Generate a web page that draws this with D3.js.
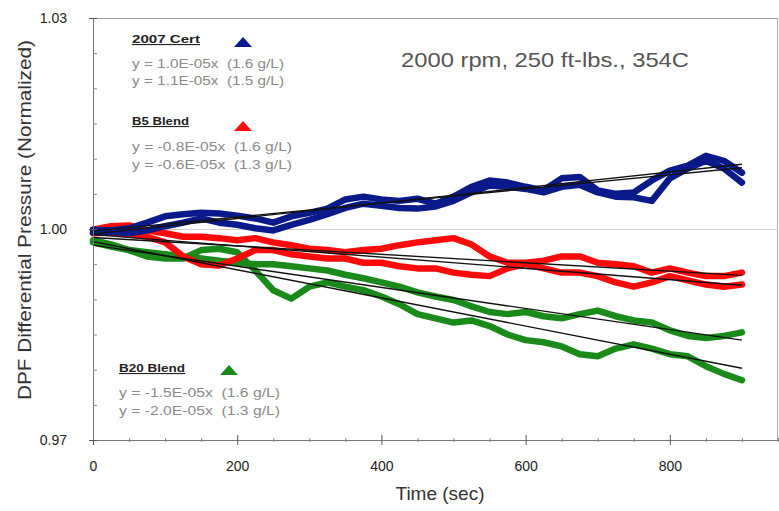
<!DOCTYPE html>
<html><head><meta charset="utf-8">
<script src="https://cdn.jsdelivr.net/npm/d3@7"></script>
<style>
body{margin:0;background:#fff}
svg{display:block}
text{font-family:Arial,"Liberation Sans",sans-serif}
</style>
</head><body>
<svg id="chart" width="779" height="511"></svg>
<script>
// ---------- data ----------
const times = [0,25,50,75,100,125,150,175,200,225,250,275,300,325,350,375,400,425,450,475,500,525,550,575,600,625,650,675,700,725,750,775,800,825,850,875,900];

const certRun1 = [0.9999,0.9998,1.0001,1.0009,1.0018,1.0021,1.0023,1.0022,1.0019,1.0015,1.0009,1.0018,1.0023,1.0029,1.0042,1.0046,1.0042,1.0040,1.0043,1.0036,1.0046,1.0060,1.0069,1.0066,1.0060,1.0055,1.0072,1.0074,1.0055,1.0050,1.0052,1.0069,1.0083,1.0090,1.0104,1.0097,1.0080];
const certRun2 = [0.9995,0.9996,0.9994,0.9998,1.0004,1.0009,1.0015,1.0009,1.0006,1.0001,0.9998,1.0006,1.0013,1.0021,1.0030,1.0036,1.0033,1.0030,1.0029,1.0032,1.0040,1.0052,1.0062,1.0060,1.0057,1.0052,1.0060,1.0063,1.0052,1.0046,1.0045,1.0040,1.0072,1.0086,1.0097,1.0086,1.0066];

const b5Run1 = [0.9999,1.0004,1.0005,0.9998,0.9994,0.9989,0.9989,0.9987,0.9984,0.9987,0.9981,0.9977,0.9972,0.9970,0.9967,0.9970,0.9972,0.9977,0.9981,0.9984,0.9987,0.9978,0.9961,0.9952,0.9952,0.9955,0.9961,0.9961,0.9952,0.9950,0.9947,0.9938,0.9944,0.9938,0.9933,0.9933,0.9938];
const b5Run2 = [0.9994,0.9995,0.9992,0.9989,0.9981,0.9961,0.9950,0.9948,0.9958,0.9970,0.9970,0.9964,0.9961,0.9958,0.9958,0.9952,0.9952,0.9947,0.9944,0.9944,0.9938,0.9935,0.9933,0.9944,0.9950,0.9944,0.9938,0.9938,0.9933,0.9924,0.9918,0.9924,0.9933,0.9927,0.9921,0.9918,0.9921];

const b20Run1 = [0.9981,0.9975,0.9970,0.9967,0.9964,0.9961,0.9958,0.9955,0.9952,0.9950,0.9950,0.9947,0.9944,0.9941,0.9935,0.9930,0.9924,0.9918,0.9910,0.9904,0.9899,0.9890,0.9882,0.9879,0.9882,0.9876,0.9873,0.9879,0.9884,0.9876,0.9870,0.9867,0.9856,0.9848,0.9845,0.9848,0.9853];
const b20Run2 = [0.9984,0.9978,0.9970,0.9961,0.9958,0.9958,0.9970,0.9972,0.9967,0.9941,0.9913,0.9901,0.9918,0.9924,0.9918,0.9913,0.9904,0.9893,0.9879,0.9873,0.9867,0.9870,0.9862,0.9850,0.9842,0.9839,0.9833,0.9822,0.9819,0.9830,0.9836,0.9830,0.9822,0.9819,0.9805,0.9794,0.9785];

// linear fits: slope (per sec) and intercept
const fitSlopes     = [1.0e-5, 1.1e-5, -0.8e-5, -0.6e-5, -1.5e-5, -2.0e-5];
const fitIntercepts = [0.9997, 0.9993, 0.9992, 0.9988, 0.9977, 0.9982];
const fitSpan = [0, 900];

const groupNames = ["2007 Cert", "B5 Blend", "B20 Blend"];
const groupColors = ["#0a1a8a", "#ff0a0a", "#1a8a1a"];
const groupEquations = [
  ["y = 1.0E-05x  (1.6 g/L)", "y = 1.1E-05x  (1.5 g/L)"],
  ["y = -0.8E-05x  (1.6 g/L)", "y = -0.6E-05x  (1.3 g/L)"],
  ["y = -1.5E-05x  (1.6 g/L)", "y = -2.0E-05x  (1.3 g/L)"]
];

const xMajor = [0,200,400,600,800];
const xMinor = [50,100,150,250,300,350,450,500,550,650,700,750,850,900,950];
const yMajor = [0.97,1.00,1.03];
const yMinor = [0.975,0.98,0.985,0.99,0.995,1.005,1.01,1.015,1.02,1.025];

const titleText = "2000 rpm, 250 ft-lbs., 354C";
const xTitle = "Time (sec)";
const yTitle = "DPF Differential Pressure (Normalized)";

// ---------- drawing ----------
const svg = d3.select("#chart");
const L = 93, R = 778, T = 18, B = 440;
const x = d3.scaleLinear().domain([0, 950]).range([L, R]);
const y = d3.scaleLinear().domain([0.97, 1.03]).range([B, T]);

// frame top/right
svg.append("line").attr("x1", L).attr("x2", R).attr("y1", T + 0.5).attr("y2", T + 0.5).attr("stroke", "#9a9a9a");
svg.append("line").attr("x1", R - 0.5).attr("x2", R - 0.5).attr("y1", T).attr("y2", B).attr("stroke", "#b0b0b0");
// grid line at 1.00
svg.append("line").attr("x1", L).attr("x2", R).attr("y1", Math.round(y(1.00)) + 0.5).attr("y2", Math.round(y(1.00)) + 0.5).attr("stroke", "#cfcfcf");

// series
const line = d3.line().x((d, i) => x(times[i])).y(d => y(d)).curve(d3.curveLinear);
const runs = [
  {v: b20Run1, c: groupColors[2]}, {v: b20Run2, c: groupColors[2]},
  {v: b5Run1, c: groupColors[1]}, {v: b5Run2, c: groupColors[1]},
  {v: certRun1, c: groupColors[0]}, {v: certRun2, c: groupColors[0]}
];
svg.append("g").selectAll("path").data(runs).join("path")
  .attr("d", d => line(d.v))
  .attr("fill", "none").attr("stroke", d => d.c)
  .attr("stroke-width", 6.5).attr("stroke-linejoin", "round").attr("stroke-linecap", "round");

// fit lines
svg.append("g").selectAll("line").data(fitSlopes).join("line")
  .attr("x1", x(fitSpan[0])).attr("x2", x(fitSpan[1]))
  .attr("y1", (s, i) => y(fitIntercepts[i] + s * fitSpan[0]))
  .attr("y2", (s, i) => y(fitIntercepts[i] + s * fitSpan[1]))
  .attr("stroke", "#111").attr("stroke-width", 1.4);

// x axis
const gx = svg.append("g").attr("transform", `translate(0,${B})`);
gx.call(d3.axisBottom(x).tickValues(xMajor).tickSize(5).tickPadding(16).tickFormat(d3.format("d")));
gx.select(".domain").attr("stroke", "#777").attr("d", `M${L},0.5H${R}`);
gx.selectAll(".tick line").attr("y1", -5).attr("stroke", "#555");
gx.selectAll(".tick text").attr("font-size", 14).attr("fill", "#222").attr("font-family", "Arial, 'Liberation Sans', sans-serif");
const gxm = svg.append("g").attr("transform", `translate(0,${B})`);
gxm.call(d3.axisBottom(x).tickValues(xMinor).tickSize(2).tickFormat(""));
gxm.select(".domain").remove();
gxm.selectAll(".tick line").attr("y1", -2).attr("stroke", "#888");

// y axis
const gy = svg.append("g").attr("transform", `translate(${L},0)`);
gy.call(d3.axisLeft(y).tickValues(yMajor).tickSize(4).tickPadding(22).tickFormat(d3.format(".2f")));
gy.select(".domain").attr("stroke", "#777").attr("d", `M0.5,${T}V${B}`);
gy.selectAll(".tick line").attr("x2", 4).attr("x1", -4).attr("stroke", "#555");
gy.selectAll(".tick text").attr("font-size", 14).attr("fill", "#222").attr("font-family", "Arial, 'Liberation Sans', sans-serif");
const gym = svg.append("g").attr("transform", `translate(${L},0)`);
gym.call(d3.axisRight(y).tickValues(yMinor).tickSize(4).tickFormat(""));
gym.select(".domain").remove();
gym.selectAll(".tick line").attr("stroke", "#888");

// axis titles
svg.append("text").attr("x", 440).attr("y", 500).attr("text-anchor", "middle")
  .attr("font-size", 19).attr("fill", "#333").text(xTitle);
svg.append("text").attr("transform", `translate(31,220) rotate(-90)`).attr("text-anchor", "middle")
  .attr("font-size", 19).attr("fill", "#333")
  .attr("textLength", 360).attr("lengthAdjust", "spacingAndGlyphs").text(yTitle);

// chart annotation
svg.append("text").attr("x", 401).attr("y", 67).attr("font-size", 21).attr("fill", "#555")
  .attr("textLength", 288).attr("lengthAdjust", "spacingAndGlyphs").text(titleText);

// legend blocks
const legendPos = [
  {hx: 132, hy: 43, tx: 243, ty: 42, ey: [68, 85]},
  {hx: 132, hy: 125, tx: 243, ty: 126, ey: [151, 169]},
  {hx: 119, hy: 372, tx: 229, ty: 370, ey: [397, 415]}
];
const headW = [68, 57, 66];
const eqW = [152, 160, 161];
groupNames.forEach((name, i) => {
  const p = legendPos[i];
  svg.append("text").attr("x", p.hx).attr("y", p.hy).attr("font-size", 11).attr("font-weight", "bold")
    .attr("fill", "#222").attr("textLength", headW[i]).attr("lengthAdjust", "spacingAndGlyphs")
    .attr("text-decoration", "underline").text(name);
  svg.append("path").attr("transform", `translate(${p.tx},${p.ty})`)
    .attr("d", "M-9,5L0,-5L9,5Z").attr("fill", groupColors[i]);
  groupEquations[i].forEach((eq, j) => {
    svg.append("text").attr("x", p.hx).attr("y", p.ey[j]).attr("font-size", 12.5)
      .attr("fill", "#8a8a8a").style("white-space", "pre")
      .attr("textLength", eqW[i]).attr("lengthAdjust", "spacingAndGlyphs").text(eq);
  });
});
</script>
</body></html>
